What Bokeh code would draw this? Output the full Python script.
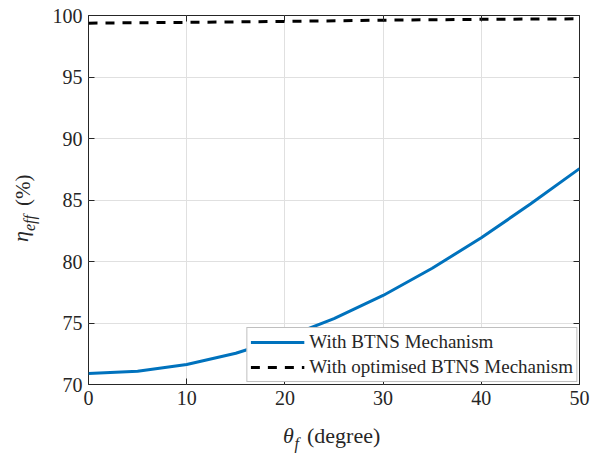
from bokeh.plotting import figure
from bokeh.models import LinearAxis, FixedTicker, Range1d, Legend, LegendItem, Div
from bokeh.layouts import row, column
from bokeh.embed import file_html
from bokeh.resources import INLINE

# ---- data ----
theta_btns = [0, 5, 10, 15, 20, 25, 30, 35, 40, 45, 50]
eff_btns = [70.9, 71.08, 71.63, 72.54, 73.8, 75.35, 77.24, 79.45, 81.93, 84.67, 87.55]

theta_opt = [0, 10, 20, 30, 40, 50]
eff_opt = [99.38, 99.44, 99.52, 99.62, 99.69, 99.73]

x_ticks = [0, 10, 20, 30, 40, 50]
y_ticks = [70, 75, 80, 85, 90, 95, 100]

legend_labels = ["With BTNS Mechanism", "With optimised BTNS Mechanism"]

FONT = "Liberation Serif"
TXT = "#262626"

W, H = 592, 454
YDIV_W = 40      # column holding the y title
XDIV_H = 30      # row holding the x title
PW, PH = W - YDIV_W, H - XDIV_H

p = figure(width=PW, height=PH, x_range=Range1d(0, 50), y_range=Range1d(70, 100),
           output_backend="svg", toolbar_location=None,
           min_border_left=88 - YDIV_W, min_border_right=13, min_border_top=15,
           min_border_bottom=PH - 384, margin=(0, 0, 0, 0))
p.background_fill_color = "white"
p.border_fill_color = "white"
p.outline_line_color = TXT
p.outline_line_width = 1

def style_axis(ax, ticks, show_labels=True):
    ax.ticker = FixedTicker(ticks=ticks)
    ax.axis_line_color = None
    ax.major_tick_in = 6
    ax.major_tick_out = 0
    ax.major_tick_line_color = TXT
    ax.minor_tick_line_color = None
    ax.major_label_text_font = FONT
    ax.major_label_standoff = 6
    if show_labels:
        ax.major_label_text_font_size = "20px"
        ax.major_label_text_color = TXT
    else:
        # mirrored tick marks only: labels are not drawn at all
        ax.major_label_text_font_size = "1px"
        ax.major_label_text_color = None
        ax.major_label_standoff = 0

style_axis(p.xaxis[0], x_ticks)
style_axis(p.yaxis[0], y_ticks)

right = LinearAxis()
style_axis(right, y_ticks, show_labels=False)
p.add_layout(right, "right")
top = LinearAxis()
style_axis(top, x_ticks, show_labels=False)
p.add_layout(top, "above")

p.xgrid.ticker = FixedTicker(ticks=x_ticks)
p.ygrid.ticker = FixedTicker(ticks=y_ticks)
p.grid.grid_line_color = "#e0e0e0"
p.grid.grid_line_width = 1

r1 = p.line(theta_btns, eff_btns, line_color="#0072BD", line_width=3)
r2 = p.line(theta_opt, eff_opt, line_color="black", line_width=3, line_dash="9 8")

leg = Legend(items=[LegendItem(label=legend_labels[0], renderers=[r1]),
                    LegendItem(label=legend_labels[1], renderers=[r2])],
             location="bottom_right")
leg.label_text_font = FONT
leg.label_text_font_size = "19px"
leg.label_text_color = TXT
leg.glyph_width = 54
leg.glyph_height = 22
leg.label_height = 22
leg.label_standoff = 5
leg.padding = 3
leg.spacing = 3
leg.margin = 2
leg.border_line_color = "#808080"
leg.border_line_width = 1.5
leg.background_fill_color = "white"
leg.background_fill_alpha = 1
p.add_layout(leg, "center")

# ---- axis titles as rich HTML text ----
def span(text, left, top, size, italic=False, rotate=False):
    st = ("position:absolute;left:%gpx;top:%gpx;font-family:'%s';font-size:%dpx;"
          "line-height:1;white-space:nowrap;color:%s;font-style:%s;"
          % (left, top, FONT, size, TXT, "italic" if italic else "normal"))
    if rotate:
        st += "transform-origin:0 0;transform:rotate(-90deg);"
    return '<span style="%s">%s</span>' % (st, text)

ytitle = (span("η", 28 - 18.4, 242, 22, italic=True, rotate=True)
          + span("eff", 35 - 13.4, 231, 16, italic=True, rotate=True)
          + span("(%)", 31 - 17.6, 206, 21, rotate=True))
ydiv = Div(text='<div style="position:relative;width:%dpx;height:%dpx;">%s</div>' % (YDIV_W, PH, ytitle),
           width=YDIV_W, height=PH, margin=(0, 0, 0, 0))

xbase = 443 - PH
xtitle = (span("θ", 283, xbase - 18.4, 22, italic=True)
          + span("f", 294.5, xbase + 6 - 13.4, 16, italic=True)
          + span("(degree)", 307, xbase - 18.4, 22))
xdiv = Div(text='<div style="position:relative;width:%dpx;height:%dpx;">%s</div>' % (W, XDIV_H, xtitle),
           width=W, height=XDIV_H, margin=(0, 0, 0, 0))

layout = column(row(ydiv, p, spacing=0, margin=(0, 0, 0, 0)), xdiv, spacing=0, margin=(0, 0, 0, 0))

open("out.html", "w").write(file_html(layout, INLINE))
